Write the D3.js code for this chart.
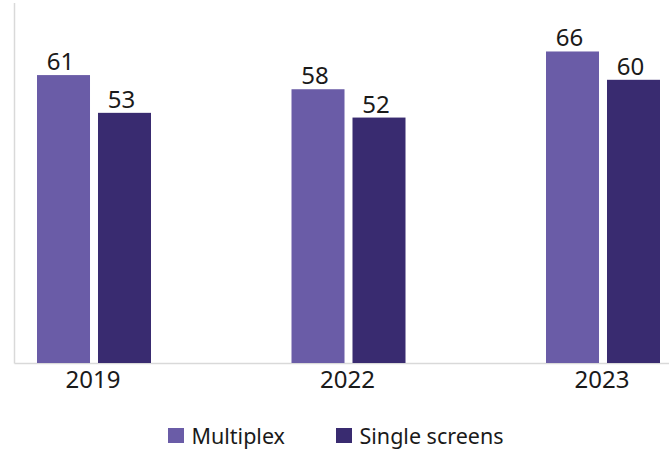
<!DOCTYPE html>
<html><head><meta charset="utf-8">
<script src="https://cdn.jsdelivr.net/npm/d3@7"></script>
<style>html,body{margin:0;padding:0;background:#fff;}svg{display:block;}</style>
</head><body>
<svg id="chart" width="669" height="451"></svg>
<script>
const categories = ["2019", "2022", "2023"];
const seriesNames = ["Multiplex", "Single screens"];
const multiplex = [61, 58, 66];
const singleScreens = [53, 52, 60];
const colors = ["#6a5ca7", "#392b70"];

const svg = d3.select("#chart");
const font = "'Noto Sans', sans-serif";
const baseY = 363;
const y = d3.scaleLinear().domain([0, 70]).range([baseY, baseY - 70 * 4.72]);
const x0 = d3.scaleBand().domain(categories).range([-33.25, 730.25]);
const groupW = 114;
const x1 = d3.scaleBand().domain(seriesNames).range([0, groupW]).paddingInner(0.131).paddingOuter(0);

const data = categories.map((c, i) => ({cat: c, vals: [multiplex[i], singleScreens[i]]}));

// axes lines
svg.append("line").attr("x1", 14.5).attr("x2", 14.5).attr("y1", 3).attr("y2", baseY + 0.5)
  .attr("stroke", "#d9d9d9").attr("stroke-width", 1.5);
svg.append("line").attr("x1", 14.5).attr("x2", 669).attr("y1", baseY + 0.5).attr("y2", baseY + 0.5)
  .attr("stroke", "#d9d9d9").attr("stroke-width", 1.5);

const g = svg.selectAll("g.grp").data(data).join("g").attr("class", "grp")
  .attr("transform", d => `translate(${x0(d.cat) + x0.bandwidth() / 2 - groupW / 2},0)`);

g.selectAll("rect").data(d => d.vals.map((v, i) => ({s: seriesNames[i], v, i})))
  .join("rect")
  .attr("x", d => x1(d.s)).attr("width", x1.bandwidth())
  .attr("y", d => y(d.v)).attr("height", d => baseY - y(d.v))
  .attr("fill", d => colors[d.i]);

g.selectAll("text.val").data(d => d.vals.map((v, i) => ({s: seriesNames[i], v, i})))
  .join("text").attr("class", "val")
  .attr("x", d => x1(d.s) + x1.bandwidth() / 2 - 3).attr("y", d => y(d.v) - 5)
  .attr("text-anchor", "middle").attr("font-family", font).attr("font-size", 24)
  .attr("fill", "#1a1a1a").text(d => d.v);

// x axis labels
svg.selectAll("text.cat").data(categories).join("text").attr("class", "cat")
  .attr("x", d => x0(d) + x0.bandwidth() / 2 - 1).attr("y", 388)
  .attr("text-anchor", "middle").attr("font-family", font).attr("font-size", 24)
  .attr("fill", "#1a1a1a").text(d => d);

// legend
const legX = [168, 336];
const leg = svg.selectAll("g.leg").data(seriesNames).join("g").attr("class", "leg")
  .attr("transform", (d, i) => `translate(${legX[i]},428)`);
leg.append("rect").attr("width", 16).attr("height", 15).attr("fill", (d, i) => colors[i]);
leg.append("text").attr("x", 23.5).attr("y", 15.5).attr("font-family", font).attr("font-size", 21.5)
  .attr("fill", "#1a1a1a").text(d => d);
</script>
</body></html>
